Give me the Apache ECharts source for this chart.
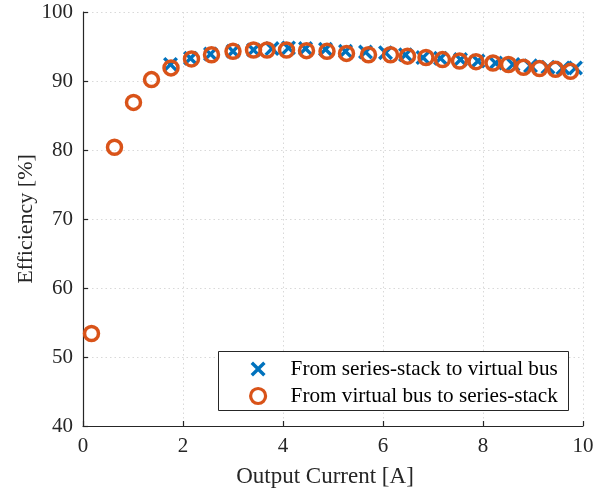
<!DOCTYPE html>
<html>
<head>
<meta charset="utf-8">
<script src="https://cdn.jsdelivr.net/npm/echarts@6/dist/echarts.min.js"></script>
<style>
html,body{margin:0;padding:0;background:#fff;}
#c{width:609px;height:493px;}
</style>
</head>
<body>
<div id="c"></div>
<script>
// Series 1: From series-stack to virtual bus (blue X)
const s1Current = [1.75, 2.15, 2.55, 3.0, 3.41, 3.78, 4.11, 4.45, 4.85, 5.25, 5.65, 6.05, 6.45, 6.8, 7.15, 7.55, 7.9, 8.25, 8.6, 8.95, 9.3, 9.6, 9.85];
const s1Eff     = [92.4, 93.3, 93.9, 94.3, 94.5, 94.7, 94.8, 94.7, 94.6, 94.3, 94.2, 94.1, 93.8, 93.4, 93.3, 93.1, 92.9, 92.6, 92.4, 92.2, 92.0, 91.9, 91.9];
// Series 2: From virtual bus to series-stack (orange O)
const s2Current = [0.17, 0.63, 1.01, 1.37, 1.76, 2.17, 2.57, 3.0, 3.41, 3.68, 4.07, 4.47, 4.88, 5.27, 5.71, 6.15, 6.49, 6.86, 7.19, 7.53, 7.86, 8.2, 8.51, 8.81, 9.13, 9.45, 9.75];
const s2Eff     = [53.4, 80.4, 86.9, 90.2, 91.9, 93.2, 93.8, 94.3, 94.5, 94.5, 94.5, 94.4, 94.3, 94.0, 93.8, 93.8, 93.6, 93.4, 93.1, 92.9, 92.8, 92.6, 92.4, 92.0, 91.8, 91.7, 91.4];
const seriesNames = ['From series-stack to virtual bus', 'From virtual bus to series-stack'];
const xTicks = [0, 2, 4, 6, 8, 10];
const yTicks = [40, 50, 60, 70, 80, 90, 100];
const xName = 'Output Current [A]';
const yName = 'Efficiency [%]';

const FONT = '"Liberation Serif", "Times New Roman", serif';
const AX = '#262626';
const BLUE = '#0072BD';
const ORANGE = '#D95319';
const X_PATH = 'path://M0,1.6 L1.6,0 L5,3.4 L8.4,0 L10,1.6 L6.6,5 L10,8.4 L8.4,10 L5,6.6 L1.6,10 L0,8.4 L3.4,5 Z';

const chart = echarts.init(document.getElementById('c'), null, {renderer: 'canvas'});
const axisCommon = {
  axisLine: {show: true, lineStyle: {color: AX, width: 1.2}},
  axisTick: {show: true, inside: true, length: 5, lineStyle: {color: AX, width: 1.2}},
  splitLine: {show: true, lineStyle: {color: '#d9d9d9', type: [1.5, 3], width: 1}},
  nameLocation: 'middle',
  nameTextStyle: {fontFamily: FONT, fontSize: 22, color: AX},
  axisLabel: {fontFamily: FONT, fontSize: 21, color: AX}
};
chart.setOption({
  animation: false,
  backgroundColor: '#fff',
  grid: {left: 83, right: 26, top: 12, bottom: 65, containLabel: false},
  xAxis: Object.assign({}, axisCommon, {
    type: 'value', min: xTicks[0], max: xTicks[xTicks.length - 1], interval: 2,
    name: xName, nameGap: 39,
    nameTextStyle: {fontFamily: FONT, fontSize: 23, color: AX, padding: [0, 16, 0, 0]},
    axisLabel: Object.assign({}, axisCommon.axisLabel, {margin: 10})
  }),
  yAxis: Object.assign({}, axisCommon, {
    type: 'value', min: yTicks[0], max: yTicks[yTicks.length - 1], interval: 10,
    name: yName, nameGap: 46, nameMoveOverlap: false,
    axisLabel: Object.assign({}, axisCommon.axisLabel, {margin: 10})
  }),
  legend: {
    left: 249, top: 358, orient: 'vertical',
    itemWidth: 15, itemHeight: 15, itemGap: 5, padding: 0,
    textStyle: {fontFamily: FONT, fontSize: 21.2, color: '#000', lineHeight: 22, padding: [0, 0, 0, 20]},
    data: [
      {name: seriesNames[0]},
      {name: seriesNames[1], itemStyle: {color: 'rgba(255,255,255,0)', borderColor: ORANGE, borderWidth: 3.2}}
    ]
  },
  graphic: [{
    type: 'rect', z: 3, silent: true,
    shape: {x: 218.5, y: 351.5, width: 350, height: 59},
    style: {fill: '#fff', stroke: AX, lineWidth: 1}
  }],
  series: [
    {
      name: seriesNames[0], type: 'scatter', z: 2,
      symbol: X_PATH, symbolSize: 15,
      itemStyle: {color: BLUE, opacity: 1},
      data: s1Current.map((x, i) => [x, s1Eff[i]])
    },
    {
      name: seriesNames[1], type: 'scatter', z: 3,
      symbol: 'circle', symbolSize: 14,
      itemStyle: {color: 'rgba(255,255,255,0)', borderColor: ORANGE, borderWidth: 3.5, opacity: 1},
      data: s2Current.map((x, i) => [x, s2Eff[i]])
    }
  ]
});
</script>
</body>
</html>
